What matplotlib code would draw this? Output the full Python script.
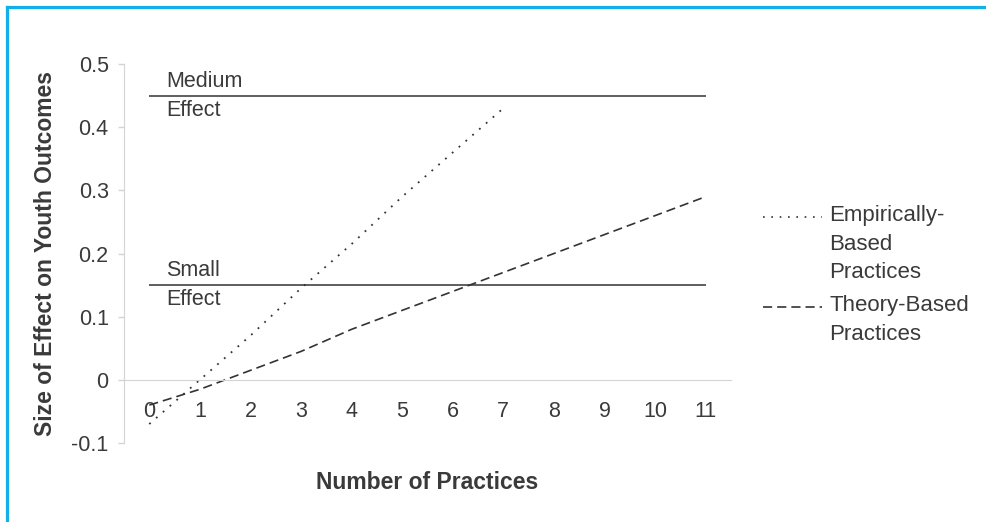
import matplotlib
matplotlib.use("Agg")
import matplotlib.pyplot as plt
from matplotlib.lines import Line2D

# data
practices = list(range(12))
empirical_x = practices[:8]
empirical_y = [-0.07, 0.0, 0.07, 0.145, 0.215, 0.29, 0.36, 0.43]
theory_y = [-0.04, -0.015, 0.015, 0.045, 0.08, 0.11, 0.14, 0.17, 0.20, 0.23, 0.26, 0.29]
medium_effect = 0.45
small_effect = 0.15
y_ticks = [-0.1, 0, 0.1, 0.2, 0.3, 0.4, 0.5]
y_tick_labels = ["-0.1", "0", "0.1", "0.2", "0.3", "0.4", "0.5"]

# settings
plt.rcParams["font.family"] = ["Liberation Sans", "DejaVu Sans"]
text_col = "#3a3a3a"
line_col = "#333333"
axis_col = "#d4d4d4"

fig = plt.figure(figsize=(9.86, 5.22), dpi=100)
ax = fig.add_axes([124 / 986, 1 - 443 / 522, 607 / 986, 379 / 522])

# effect lines
ax.hlines([medium_effect, small_effect], practices[0], practices[-1], color=line_col, lw=1.1)

# series
ax.plot(empirical_x, empirical_y, color=line_col, lw=1.3, linestyle=(0, (1, 4)))
ax.plot(practices, theory_y, color=line_col, lw=1.2, linestyle=(0, (5.5, 3)))

# effect labels
for val, top, bottom in [(medium_effect, "Medium", "Effect"), (small_effect, "Small", "Effect")]:
    ax.annotate(top, (0.34, val), xytext=(0, 6.5), textcoords="offset points",
                ha="left", va="baseline", fontsize=15.5, color=text_col)
    ax.annotate(bottom, (0.34, val), xytext=(0, -3), textcoords="offset points",
                ha="left", va="top", fontsize=15.5, color=text_col)

# axes
ax.set_xlim(-0.5, 11.5)
ax.set_ylim(-0.1, 0.5)
ax.set_xticks(practices)
ax.set_xticklabels([str(p) for p in practices])
ax.set_yticks(y_ticks)
ax.set_yticklabels(y_tick_labels)
ax.spines["top"].set_visible(False)
ax.spines["right"].set_visible(False)
ax.spines["bottom"].set_position(("data", 0))
ax.spines["bottom"].set_color(axis_col)
ax.spines["left"].set_color(axis_col)
ax.tick_params(axis="x", length=0, pad=15.5, labelsize=15.5, labelcolor=text_col)
ax.tick_params(axis="y", length=4, width=1, color=axis_col, pad=7, labelsize=15.5, labelcolor=text_col)

ax.set_xlabel("Number of Practices", fontsize=16.5, fontweight="bold", color=text_col)
ax.set_ylabel("Size of Effect on Youth Outcomes", fontsize=16.5, fontweight="bold", color=text_col)
ax.xaxis.set_label_coords(0.5, -0.105)
ax.xaxis.label.set_va("center")
ax.yaxis.set_label_coords(-78 / 607, 0.5)
ax.yaxis.label.set_va("center")

# legend drawn by hand so the handle sits on the first text line
leg_items = [("Empirically-\nBased\nPractices", (0, (1, 4)), 217),
             ("Theory-Based\nPractices", (0, (5.5, 3)), 307)]
for label, ls, ypx in leg_items:
    yf = 1 - ypx / 522
    fig.add_artist(Line2D([763 / 986, 822 / 986], [yf, yf], color=line_col, lw=1.2,
                          linestyle=ls, transform=fig.transFigure))
    fig.text(829 / 986, yf + 12 / 522, label, ha="left", va="top", fontsize=16,
             color=text_col, linespacing=1.47)

# border
border = "#12b0ea"
fig.add_artist(Line2D([7 / 986, 1], [1 - 7 / 522, 1 - 7 / 522], color=border, lw=2.3,
                      transform=fig.transFigure))
fig.add_artist(Line2D([7 / 986, 7 / 986], [0, 1 - 7 / 522], color=border, lw=2.3,
                      transform=fig.transFigure))

fig.savefig("out.png", dpi=100)
